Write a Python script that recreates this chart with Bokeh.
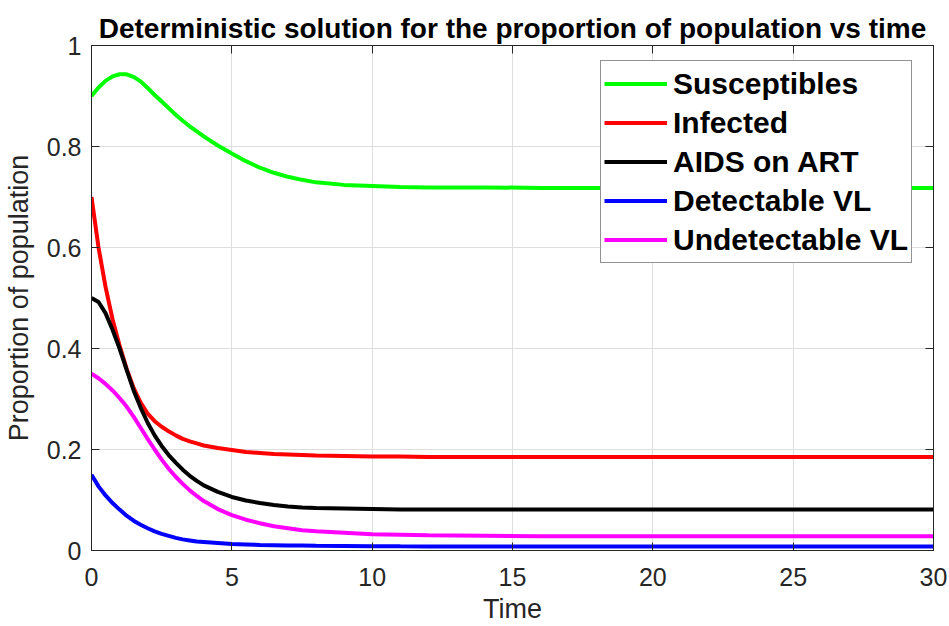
from bokeh.plotting import figure
from bokeh.models import Range1d, LinearAxis, FixedTicker, Legend, LegendItem
from bokeh.embed import file_html
from bokeh.resources import INLINE

# Time points and proportion of population in each compartment
t = [0, 0.25, 0.5, 0.75, 1.0, 1.25, 1.5, 1.75, 2.0, 2.25, 2.5, 2.75, 3.0, 3.25,
     3.5, 3.75, 4.0, 4.5, 5.0, 5.5, 6.0, 6.5, 7.0, 7.5, 8.0, 9, 10, 11, 12, 14,
     16, 20, 25, 30]
susceptibles = [0.900, 0.917, 0.930, 0.939, 0.943, 0.943, 0.938, 0.929, 0.916,
                0.902, 0.889, 0.876, 0.863, 0.851, 0.840, 0.830, 0.820, 0.802,
                0.786, 0.771, 0.758, 0.748, 0.740, 0.734, 0.729, 0.724, 0.722,
                0.720, 0.719, 0.719, 0.718, 0.718, 0.718, 0.718]
infected = [0.700, 0.600, 0.522, 0.458, 0.406, 0.360, 0.322, 0.293, 0.271,
            0.256, 0.245, 0.236, 0.228, 0.221, 0.216, 0.212, 0.208, 0.203,
            0.199, 0.195, 0.193, 0.191, 0.190, 0.189, 0.188, 0.187, 0.186,
            0.186, 0.185, 0.185, 0.185, 0.185, 0.185, 0.185]
aids_on_art = [0.500, 0.492, 0.470, 0.437, 0.400, 0.358, 0.317, 0.283, 0.253,
               0.228, 0.207, 0.189, 0.174, 0.160, 0.148, 0.138, 0.129, 0.116,
               0.106, 0.099, 0.094, 0.090, 0.087, 0.085, 0.084, 0.083, 0.082,
               0.081, 0.081, 0.081, 0.081, 0.081, 0.081, 0.081]
detectable_vl = [0.150, 0.127, 0.109, 0.094, 0.081, 0.069, 0.059, 0.051, 0.044,
                 0.038, 0.033, 0.029, 0.025, 0.022, 0.020, 0.018, 0.017, 0.015,
                 0.013, 0.012, 0.011, 0.0105, 0.010, 0.0097, 0.0094, 0.009,
                 0.0086, 0.0083, 0.0081, 0.008, 0.008, 0.008, 0.008, 0.008]
undetectable_vl = [0.350, 0.341, 0.330, 0.317, 0.302, 0.285, 0.265, 0.243, 0.221,
                   0.200, 0.180, 0.162, 0.146, 0.132, 0.119, 0.108, 0.098, 0.082,
                   0.070, 0.061, 0.054, 0.048, 0.044, 0.040, 0.038, 0.035, 0.032,
                   0.031, 0.030, 0.029, 0.028, 0.028, 0.028, 0.028]

series_names = ["Susceptibles", "Infected", "AIDS on ART", "Detectable VL", "Undetectable VL"]
series_colors = ["#00ff00", "#ff0000", "#000000", "#0000ff", "#ff00ff"]

x_ticks = [0, 5, 10, 15, 20, 25, 30]
y_ticks = [0, 0.2, 0.4, 0.6, 0.8, 1.0]
y_tick_labels = ["0", "0.2", "0.4", "0.6", "0.8", "1"]

FONT = "Liberation Sans"
AXIS_COLOR = "#262626"

p = figure(width=949, height=626, output_backend="svg", toolbar_location=None,
           x_range=Range1d(0, 30), y_range=Range1d(0, 1),
           min_border_left=90, min_border_right=16, min_border_top=45,
           min_border_bottom=75, background_fill_color="white",
           border_fill_color="white",
           title="Deterministic solution for the proportion of population vs time")
p.outline_line_color = AXIS_COLOR
p.outline_line_width = 1

p.title.text_font = FONT
p.title.text_font_size = "28px"
p.title.text_font_style = "bold"
p.title.text_color = "black"
p.title.align = "center"
p.title.standoff = 4

# Grid
for g in (p.xgrid, p.ygrid):
    g.grid_line_color = "#dedede"
    g.grid_line_width = 1
p.xgrid.ticker = FixedTicker(ticks=x_ticks)
p.ygrid.ticker = FixedTicker(ticks=y_ticks)

# Main axes
xa = p.xaxis[0]
ya = p.yaxis[0]
xa.ticker = FixedTicker(ticks=x_ticks)
ya.ticker = FixedTicker(ticks=y_ticks)
ya.major_label_overrides = {v: s for v, s in zip(y_ticks, y_tick_labels)}
xa.axis_label = "Time"
ya.axis_label = "Proportion of population"
for ax in (xa, ya):
    ax.axis_line_color = AXIS_COLOR
    ax.major_tick_line_color = AXIS_COLOR
    ax.major_tick_in = 8
    ax.major_tick_out = 0
    ax.minor_tick_line_color = None
    ax.major_label_text_font = FONT
    ax.major_label_text_font_size = "25px"
    ax.major_label_text_color = AXIS_COLOR
    ax.major_label_text_line_height = 1.0
    ax.axis_label_text_font = FONT
    ax.axis_label_text_font_size = "27px"
    ax.axis_label_text_font_style = "normal"
    ax.axis_label_text_color = AXIS_COLOR
    ax.axis_label_text_line_height = 1.0
xa.major_label_standoff = 17
xa.axis_label_standoff = 5
ya.major_label_standoff = 10
ya.axis_label_standoff = 10

# Box axes on top and right with inward ticks only
for loc, ticks in (("above", x_ticks), ("right", y_ticks)):
    ax = LinearAxis(ticker=FixedTicker(ticks=ticks))
    ax.axis_line_color = AXIS_COLOR
    ax.major_tick_line_color = AXIS_COLOR
    ax.major_tick_in = 8
    ax.major_tick_out = 0
    ax.minor_tick_line_color = None
    ax.major_label_text_font_size = "0px"
    ax.major_label_text_alpha = 0
    ax.major_label_standoff = 0
    p.add_layout(ax, loc)

# Curves
all_series = [susceptibles, infected, aids_on_art, detectable_vl, undetectable_vl]
items = []
for name, color, ys in zip(series_names, series_colors, all_series):
    r = p.line(t, ys, line_color=color, line_width=4)
    items.append(LegendItem(label=name, renderers=[r]))

legend = Legend(items=items, location=(509, 287))
legend.label_text_font = FONT
legend.label_text_font_size = "30px"
legend.label_text_font_style = "bold"
legend.label_text_color = "black"
legend.glyph_width = 63
legend.glyph_height = 39
legend.label_height = 39
legend.label_standoff = 6
legend.spacing = 0
legend.padding = 3
legend.margin = 0
legend.border_line_color = AXIS_COLOR
legend.border_line_width = 1
legend.background_fill_color = "white"
legend.background_fill_alpha = 1
p.add_layout(legend, "center")

open("out.html", "w").write(file_html(p, INLINE))
